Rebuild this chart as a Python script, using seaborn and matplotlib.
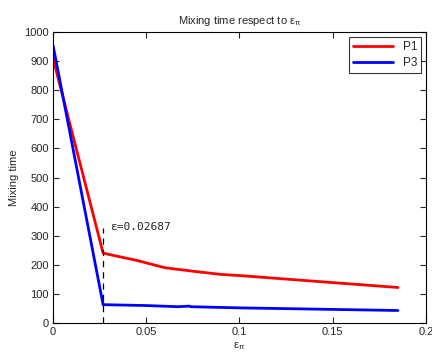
import matplotlib
matplotlib.use("Agg")
import matplotlib.pyplot as plt
import pandas as pd
import seaborn as sns

# values
eps_p1 = [0.0, 0.02687, 0.045, 0.06, 0.075, 0.09, 0.1, 0.185]
time_p1 = [910, 240, 215, 190, 178, 167, 163, 122]
eps_p3 = [0.0, 0.02687, 0.05, 0.067, 0.073, 0.074, 0.1, 0.185]
time_p3 = [955, 63, 60, 56, 58, 56, 52, 43]
eps_mark = 0.02687

df = pd.concat([
    pd.DataFrame({"eps": eps_p1, "time": time_p1, "series": "P1"}),
    pd.DataFrame({"eps": eps_p3, "time": time_p3, "series": "P3"}),
])

sns.set_style("white")
plt.rcParams["font.family"] = ["Liberation Sans", "DejaVu Sans"]

fig = plt.figure(figsize=(4.32, 3.56), dpi=100)
ax = fig.add_axes([0.1227, 0.0927, 0.8633, 0.8173])
sns.lineplot(data=df, x="eps", y="time", hue="series", sort=False,
             palette={"P1": "#ff0000", "P3": "#0000ff"}, linewidth=2, ax=ax)

ax.plot([eps_mark, eps_mark], [0, 325], color="black", linestyle=(0, (5, 4)), linewidth=0.9)
ax.text(eps_mark + 0.004, 330, "ε=0.02687", family="DejaVu Sans Mono", fontsize=8,
        va="center", ha="left", color="#222222")

ax.set_xlim(0, 0.2)
ax.set_ylim(0, 1000)
ax.set_xticks([0, 0.05, 0.1, 0.15, 0.2])
ax.set_xticklabels(["0", "0.05", "0.1", "0.15", "0.2"])
ax.set_yticks(range(0, 1001, 100))
ax.tick_params(direction="in", length=4, labelsize=8, top=True, right=True,
               bottom=True, left=True, width=0.8, pad=3)
for s in ax.spines.values():
    s.set_color("black")
    s.set_linewidth(0.8)

ax.set_xlabel(r"$\mathregular{ε_π}$", fontsize=8, labelpad=2)
ax.set_ylabel("Mixing time", fontsize=8, labelpad=4)
ax.set_title(r"Mixing time respect to $\mathregular{ε_π}$", fontsize=8, pad=6)

leg = ax.legend(loc="upper right", fontsize=8.5, frameon=True, fancybox=False,
                edgecolor="black", handlelength=3.4, borderpad=0.35,
                labelspacing=0.35, borderaxespad=0.4)
leg.get_frame().set_linewidth(0.8)

fig.savefig("out.png", dpi=100)
